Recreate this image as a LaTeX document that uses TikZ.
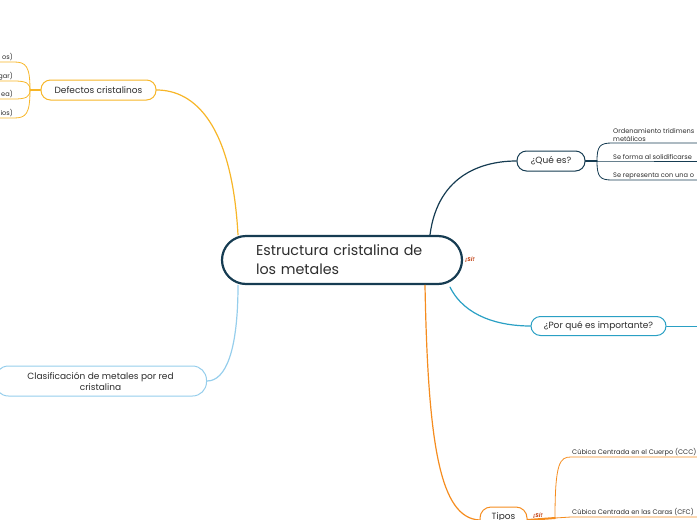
\documentclass[tikz,border=0pt]{standalone}
\usepackage{fontspec}
\setmainfont{Poppins}
\usetikzlibrary{positioning}
\definecolor{navy}{RGB}{22,60,82}
\definecolor{teal}{RGB}{42,160,196}
\definecolor{gold}{RGB}{247,182,40}
\definecolor{sky}{RGB}{150,206,236}
\definecolor{tang}{RGB}{245,140,30}
\definecolor{sired}{RGB}{196,72,28}
\definecolor{txt}{RGB}{45,45,45}

\begin{document}
\begin{tikzpicture}[x=1pt,y=-1pt,line cap=round,every node/.style={text=txt}]
\tikzstyle{topic}=[draw,fill=white,rounded corners=9.5pt,line width=1pt,minimum height=20pt,inner sep=0pt,font=\fontsize{9}{11}\selectfont]
\tikzstyle{leaf}=[inner sep=1pt,font=\fontsize{6.6}{8}\selectfont,align=left]
\tikzstyle{yes}=[text=sired,inner sep=0pt,font=\fontsize{5.5}{6}\selectfont\bfseries\itshape]
\tikzstyle{link}=[line width=1.2pt]
\tikzstyle{twig}=[line width=0.8pt]

\useasboundingbox (0,0) rectangle (697,520);
\clip (0,0) rectangle (697,520);

% main topic
\node[draw=navy,line width=2.2pt,rounded corners=24pt,minimum width=240pt,minimum height=48pt,
      text width=172pt,align=left,font=\fontsize{14.3}{19}\selectfont] (main) at (342,260)
      {Estructura cristalina de\\los metales};
\node[yes] (mainyes) at (470,260) {¡Sí!};

% subtopics
\node[topic,draw=navy,minimum width=68pt] (que) at (551,161) {¿Qué es?};
\node[topic,draw=teal,minimum width=135pt,minimum height=19pt] (por) at (598.5,326) {¿Por qué es importante?};
\node[topic,draw=gold,minimum width=115pt] (def) at (98.5,90) {Defectos cristalinos};
\node[topic,draw=sky,minimum width=212pt,minimum height=30pt,rounded corners=14pt,align=center] (cla) at (100.5,381)
      {Clasificación de metales por red\\cristalina};
\node[topic,draw=tang,minimum width=47pt,minimum height=26pt,rounded corners=11pt,text depth=7pt] (tip) at (503.5,520) {Tipos};
\node[yes] (tipyes) at (538,516) {¡Sí!};

% leaves
\coordinate (qb) at (597,161);
\node[leaf,anchor=south west] (q1) at (612,143) {Ordenamiento tridimens\\metálicos};
\node[leaf,anchor=south west] (q2) at (612,161) {Se forma al solidificarse};
\node[leaf,anchor=south west] (q3) at (612,180) {Se representa con una o};

\coordinate (db) at (30,90);
\node[leaf,anchor=south east] (d1) at (14,62) {os)};
\node[leaf,anchor=south east] (d2) at (14,81) {gar)};
\node[leaf,anchor=south east] (d3) at (14,99) {ea)};
\node[leaf,anchor=south east] (d4) at (14,118) {ios)};

\coordinate (tb) at (555,518);
\node[leaf,anchor=south west] (t1) at (571,457) {Cúbica Centrada en el Cuerpo (CCC)};
\node[leaf,anchor=south west] (t2) at (571,517) {Cúbica Centrada en las Caras (CFC)};

% connectors
\begin{scope}[on background layer/.try]
\draw[link,navy] ([xshift=88pt]main.north) .. controls +(8,-62) and (485,161) .. (que.west);
\draw[link,teal] ([xshift=108pt,yshift=-2pt]main.south) .. controls +(15,30) and (500,326) .. (por.west);
\draw[link,gold] ([xshift=-104pt]main.north) .. controls +(-6,-110) and (195,90) .. (def.east);
\draw[link,sky] ([xshift=-104pt]main.south) .. controls +(0,65) and (226,381) .. (cla.east);
\draw[link,tang] ([xshift=83pt]main.south) .. controls +(3,160) and (440,518) .. (tip.west);
\end{scope}

\draw[link,navy] (que.east) -- (qb);
\draw[twig,navy] (qb) .. controls (597,146) and (600,143) .. (q1.south west) -- (697,143);
\draw[twig,navy] (qb) -- (q2.south west) -- (697,161);
\draw[twig,navy] (qb) .. controls (597,177) and (600,180) .. (q3.south west) -- (697,180);

\draw[twig,teal] (por.east) -- (697,326);

\draw[link,gold] (def.west) -- (db);
\draw[twig,gold] (db) .. controls (30,66) and (26,62) .. (d1.south east) -- (0,62);
\draw[twig,gold] (db) .. controls (30,83) and (26,81) .. (d2.south east) -- (0,81);
\draw[twig,gold] (db) .. controls (30,97) and (26,99) .. (d3.south east) -- (0,99);
\draw[twig,gold] (db) .. controls (30,114) and (26,118) .. (d4.south east) -- (0,118);

\draw[tang,line width=2pt] (tip.east) -- (tb);
\draw[twig,tang] (tb) .. controls (555,462) and (560,457) .. (t1.south west) -- (697,457);
\draw[twig,tang] (tb) -- (t2.south west) -- (697,517);
\end{tikzpicture}
\end{document}
